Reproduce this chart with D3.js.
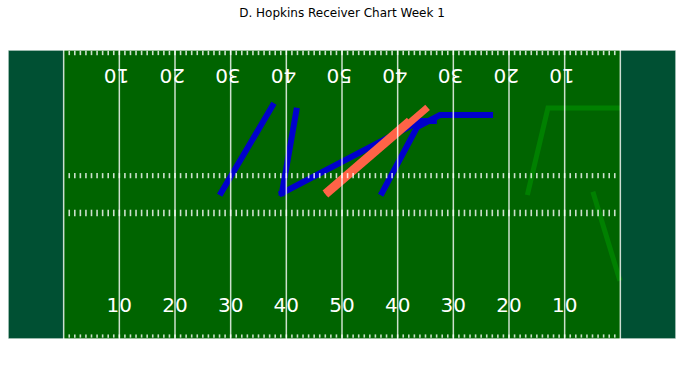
<!DOCTYPE html>
<html>
<head>
<meta charset="utf-8">
<script src="https://cdn.jsdelivr.net/npm/d3@7"></script>
<style>
  body { margin: 0; background: #fff; }
  svg { display: block; font-family: "DejaVu Sans", sans-serif; }
</style>
</head>
<body>
<div id="chart"></div>
<script>
// field markings (yards)
const yardLines = [10, 20, 30, 40, 50, 60, 70, 80, 90, 100, 110];
const numberYards = [20, 30, 40, 50, 60, 70, 80, 90, 100];
const numberLabels = ["10", "20", "30", "40", "50", "40", "30", "20", "10"];
const hashRows = [[0.4, 0.7], [22.8, 23.7], [29.8, 30.45], [52.5, 53.0]];

// routes, [yard line, width position] points
const blueRoutes = [
  [[38.3, 27.0], [47.5, 43.0]],
  [[49.2, 26.9], [51.8, 42.1]],
  [[49.2, 26.9], [74.0, 40.2], [76.5, 40.2]]
];
const orangeRoutes = [
  [[57.6, 27.0], [74.9, 42.3]],
  [[57.4, 27.3], [71.6, 39.9]]
];
const blueRoutesLate = [
  [[67.2, 27.0], [73.5, 39.1], [77.6, 41.3], [86.6, 41.3]]
];
const greenRoutes = [
  [[93.4, 27.0], [97.0, 42.6], [109.6, 42.6]],
  [[105.2, 26.7], [109.8, 11.2]]
];

const svgWidth = 683;
const svgHeight = 374;
const margin = { top: 50, right: 7, bottom: 35, left: 8 };

const svg = d3.select("#chart")
  .append("svg")
  .attr("width", svgWidth)
  .attr("height", svgHeight);

const x = d3.scaleLinear().domain([0, 120]).range([margin.left, svgWidth - margin.right]);
const y = d3.scaleLinear().domain([0, 53.3]).range([svgHeight - margin.bottom, margin.top]);

// title
svg.append("text")
  .attr("x", (x(0) + x(120)) / 2)
  .attr("y", 17)
  .attr("text-anchor", "middle")
  .attr("font-size", 12)
  .attr("fill", "#000")
  .text("D. Hopkins Receiver Chart Week 1");

// field + end zones
svg.append("rect")
  .attr("x", x(0)).attr("y", y(53.3))
  .attr("width", x(120) - x(0)).attr("height", y(0) - y(53.3))
  .attr("fill", "#006400");

svg.selectAll(".endzone")
  .data([[0, 10], [110, 120]])
  .enter()
  .append("rect")
  .attr("class", "endzone")
  .attr("x", d => x(d[0])).attr("y", y(53.3))
  .attr("width", d => x(d[1]) - x(d[0])).attr("height", y(0) - y(53.3))
  .attr("fill", "#005033");

// routes
const line = d3.line().x(d => x(d[0])).y(d => y(d[1]));

function drawRoutes(routes, color, width) {
  svg.append("g")
    .selectAll("path")
    .data(routes)
    .enter()
    .append("path")
    .attr("d", line)
    .attr("fill", "none")
    .attr("stroke", color)
    .attr("stroke-width", width)
    .attr("stroke-linecap", "square")
    .attr("stroke-linejoin", "miter");
}

drawRoutes(blueRoutes, "#0000cd", 6);
drawRoutes(orangeRoutes, "#ff6347", 7);
drawRoutes(blueRoutesLate, "#0000cd", 6);
drawRoutes(greenRoutes, "#008000", 5);

// markings on top
const marks = svg.append("g").attr("stroke", "#fff").attr("stroke-opacity", 0.8);

marks.append("rect")
  .attr("x", x(0)).attr("y", y(53.3))
  .attr("width", x(120) - x(0)).attr("height", y(0) - y(53.3))
  .attr("fill", "none")
  .attr("stroke-width", 1.5);

marks.selectAll(".yard")
  .data(yardLines)
  .enter()
  .append("line")
  .attr("class", "yard")
  .attr("x1", d => x(d)).attr("x2", d => x(d))
  .attr("y1", y(0)).attr("y2", y(53.3))
  .attr("stroke-width", 1.5);

const hashYards = d3.range(11, 110);
hashRows.forEach(function (row) {
  marks.append("g")
    .selectAll("line")
    .data(hashYards)
    .enter()
    .append("line")
    .attr("x1", d => x(d)).attr("x2", d => x(d))
    .attr("y1", y(row[0])).attr("y2", y(row[1]))
    .attr("stroke-width", 1.6)
    .attr("stroke-linecap", "square");
});

// yard numbers
svg.selectAll(".num-bottom")
  .data(numberYards)
  .enter()
  .append("text")
  .attr("class", "num-bottom")
  .attr("x", d => x(d))
  .attr("y", y(4.9))
  .attr("text-anchor", "middle")
  .attr("font-size", 20)
  .attr("fill", "#fff")
  .text((d, i) => numberLabels[i]);

svg.selectAll(".num-top")
  .data(numberYards)
  .enter()
  .append("text")
  .attr("class", "num-top")
  .attr("transform", d => `translate(${x(d - 0.5)}, ${y(49.8)}) rotate(180)`)
  .attr("text-anchor", "middle")
  .attr("font-size", 20)
  .attr("fill", "#fff")
  .text((d, i) => numberLabels[i]);
</script>
</body>
</html>
